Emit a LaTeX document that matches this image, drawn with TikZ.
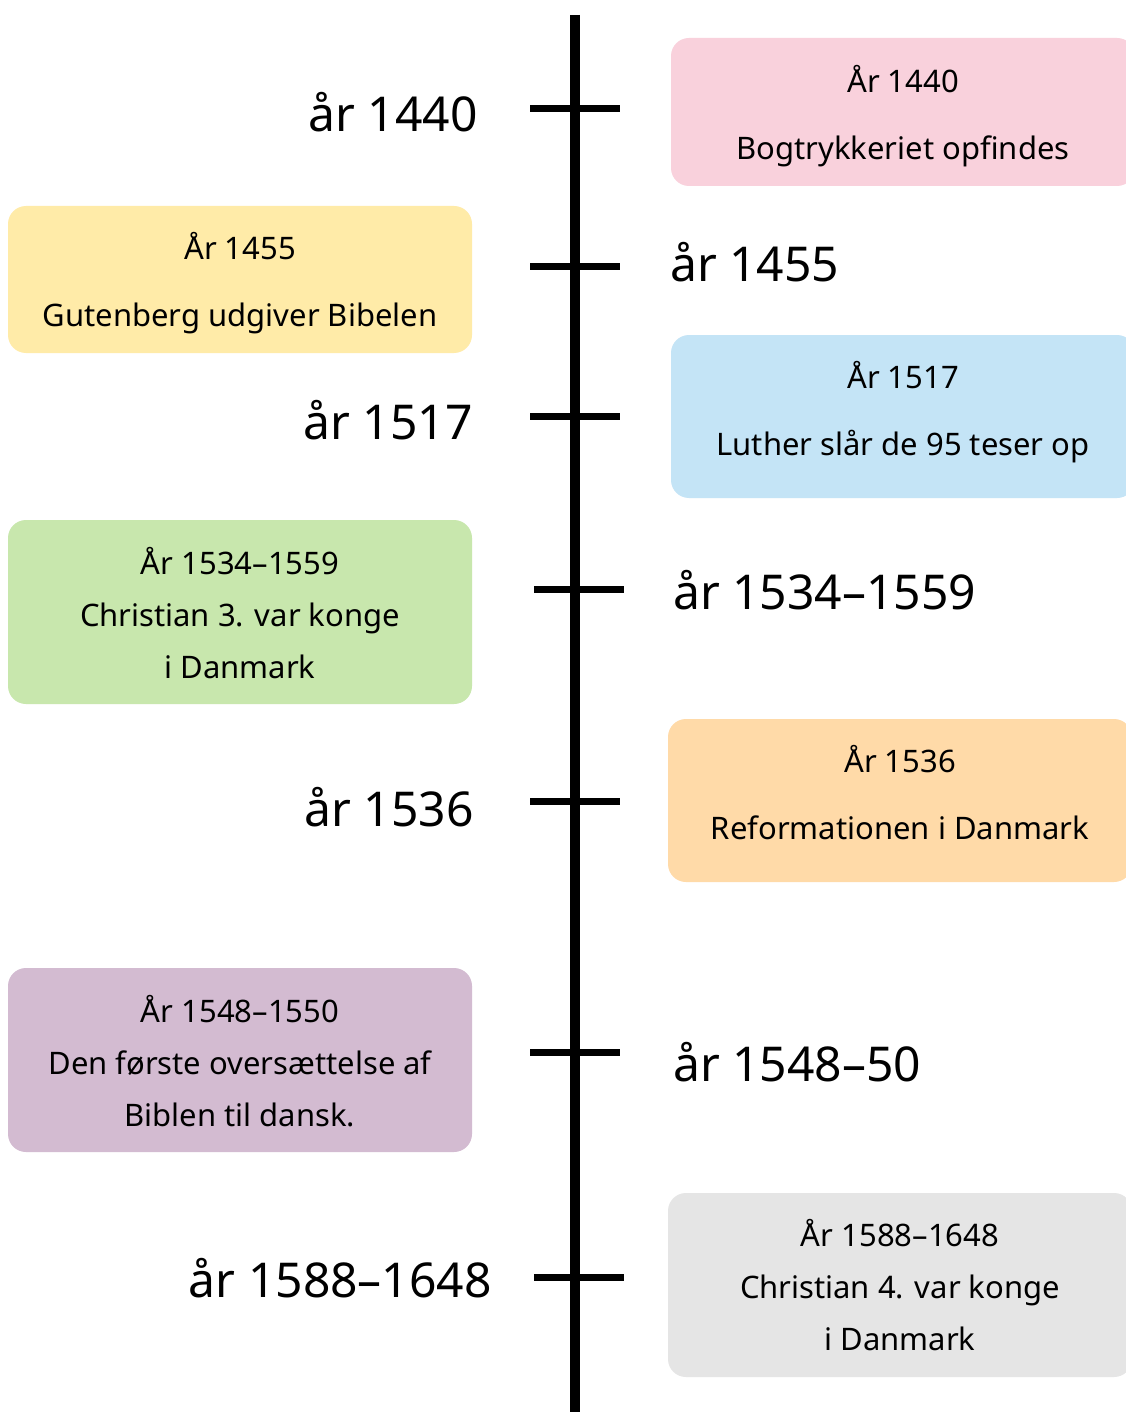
\documentclass[tikz,border=0pt]{standalone}
\usepackage{fontspec}
\setmainfont{Noto Sans}
\definecolor{cpink}{HTML}{F9D1DC}
\definecolor{cyellow}{HTML}{FFEBA8}
\definecolor{cblue}{HTML}{C4E4F6}
\definecolor{cgreen}{HTML}{C8E7AD}
\definecolor{corange}{HTML}{FFDAA8}
\definecolor{cpurple}{HTML}{D3BBD1}
\definecolor{cgray}{HTML}{E5E5E5}
\begin{document}
\begin{tikzpicture}[x=1pt,y=-1pt,
  evbox/.style={rounded corners=18pt, minimum width=464pt, inner sep=0pt},
  evtext/.style={align=center, inner sep=0pt, font=\fontsize{31}{67}\selectfont, text=black},
  evtextthree/.style={evtext, font=\fontsize{31}{52}\selectfont},
  yearlabel/.style={font=\fontsize{48}{50}\selectfont, inner sep=0pt},
  tick/.style={line width=7pt},
  axis/.style={line width=10pt}]
\useasboundingbox[fill=white] (0,0) rectangle (1125,1412);
% axis
\coordinate (top) at (575,15);
\coordinate (bot) at (575,1420);
\draw[axis] (top) -- (bot);
% ticks
\foreach \n/\y/\a/\b in {t1/109/530/620, t2/267/530/620, t3/416/530/620, t4/589/534/624, t5/801/530/620, t6/1052/530/620, t7/1277/534/624}{
  \coordinate (\n a) at (\a,\y);
  \coordinate (\n b) at (\b,\y);
  \draw[tick] (\n a) -- (\n b);
}
% boxes
\node[evbox, fill=cpink, minimum height=148pt] (b1) at (903,112) {};
\node[evbox, fill=cyellow, minimum height=147pt] (b2) at (240,279.5) {};
\node[evbox, fill=cblue, minimum height=163pt] (b3) at (903,416.5) {};
\node[evbox, fill=cgreen, minimum height=184pt] (b4) at (240,612) {};
\node[evbox, fill=corange, minimum height=163pt] (b5) at (900,800.5) {};
\node[evbox, fill=cpurple, minimum height=184pt] (b6) at (240,1060) {};
\node[evbox, fill=cgray, minimum height=184pt] (b7) at (900,1285) {};
% box texts
\node[evtext] (x1) at ([yshift=-4pt]b1.center) {År 1440\\Bogtrykkeriet opfindes};
\node[evtext] (x2) at ([yshift=-4pt]b2.center) {År 1455\\Gutenberg udgiver Bibelen};
\node[evtext] (x3) at ([yshift=4pt]b3.center) {År 1517\\Luther slår de 95 teser op};
\node[evtextthree] (x4) at ([yshift=-1pt]b4.center) {År 1534–1559\\Christian 3. var konge\\i Danmark};
\node[evtext] (x5) at ([yshift=8pt]b5.center) {År 1536\\Reformationen i Danmark};
\node[evtextthree] (x6) at ([yshift=-1pt]b6.center) {År 1548–1550\\Den første oversættelse af\\Biblen til dansk.};
\node[evtextthree] (x7) at ([yshift=0pt]b7.center) {År 1588–1648\\Christian 4. var konge\\i Danmark};
% year labels
\node[yearlabel, anchor=east] (y1) at (478,112) {år 1440};
\node[yearlabel, anchor=west] (y2) at (670,262) {år 1455};
\node[yearlabel, anchor=east] (y3) at (473,420) {år 1517};
\node[yearlabel, anchor=west] (y4) at (673,590) {år 1534–1559};
\node[yearlabel, anchor=east] (y5) at (474,807) {år 1536};
\node[yearlabel, anchor=west] (y6) at (673,1062) {år 1548–50};
\node[yearlabel, anchor=east] (y7) at (492,1278) {år 1588–1648};
\end{tikzpicture}
\end{document}
